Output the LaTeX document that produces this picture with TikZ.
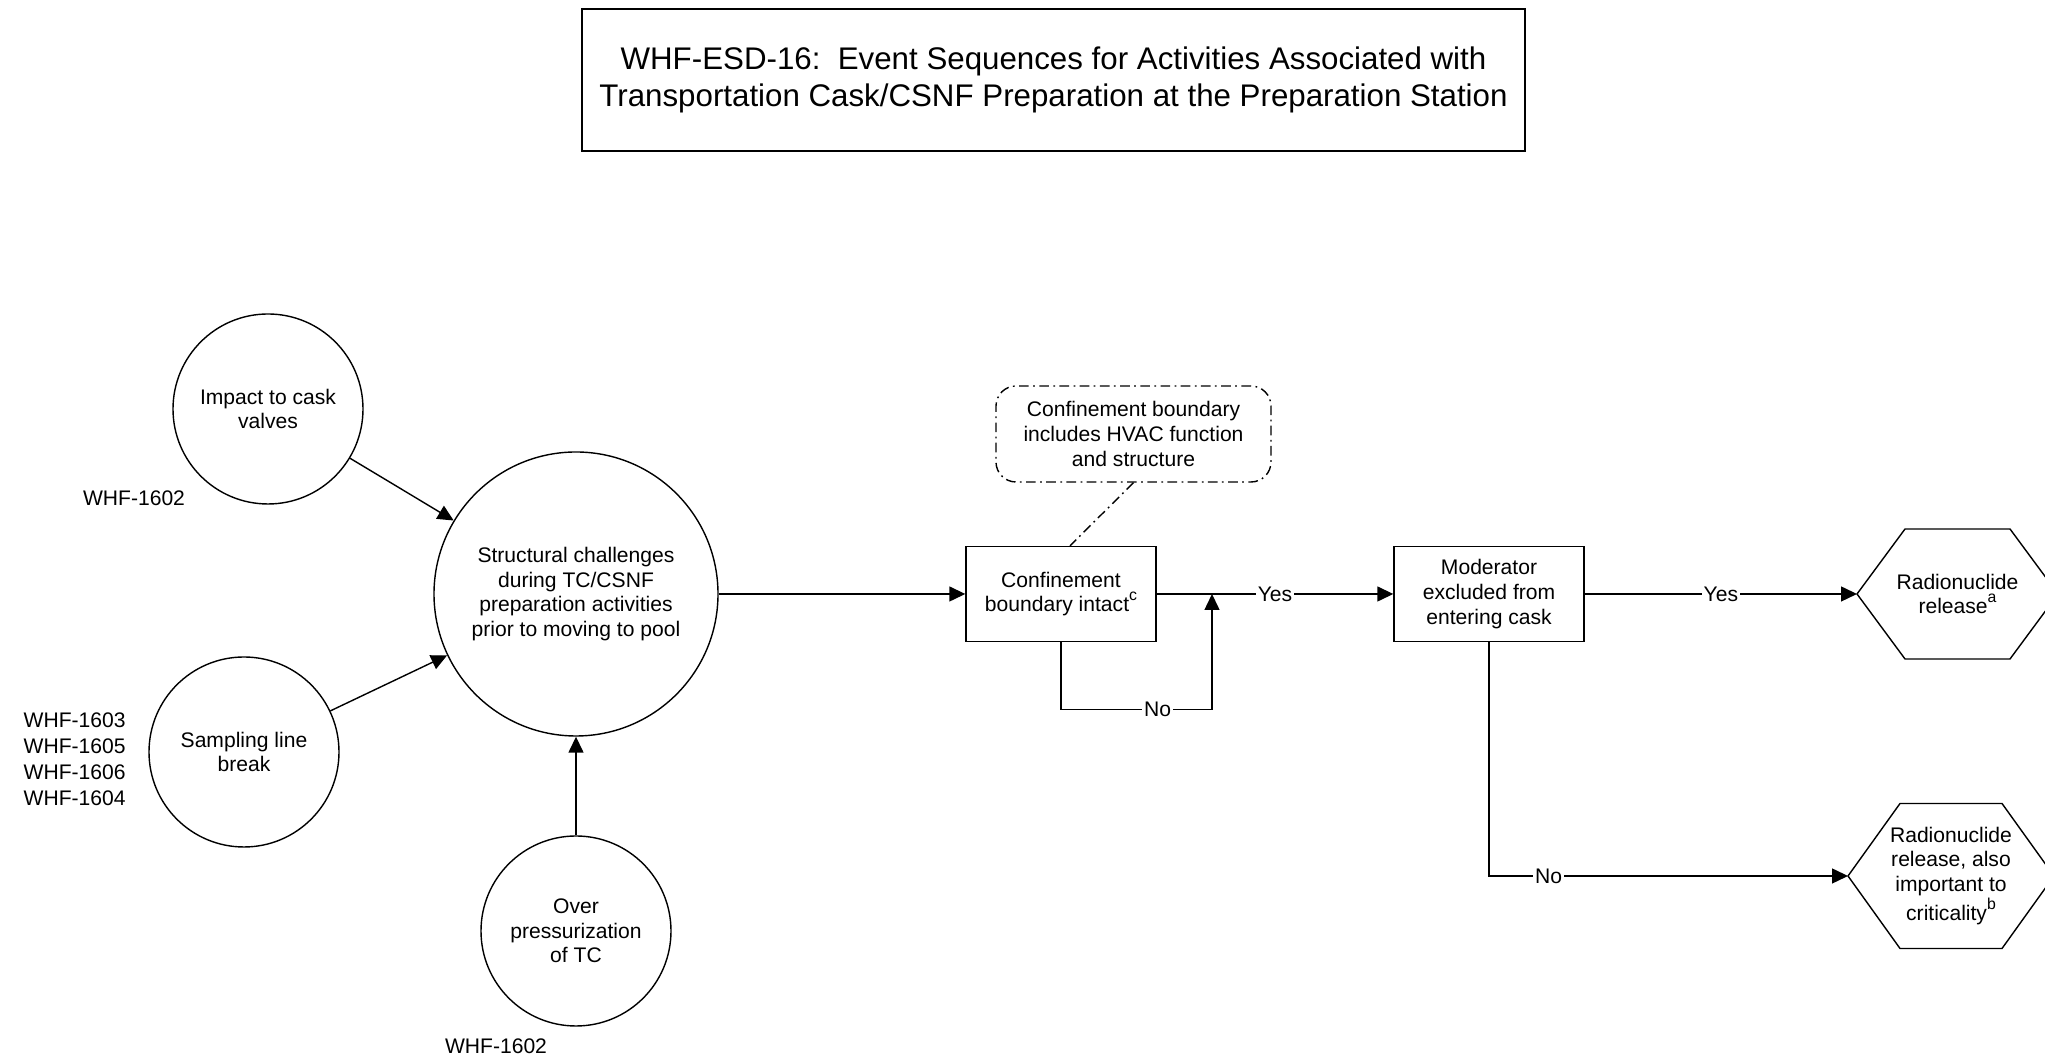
\documentclass[tikz,border=0pt]{standalone}
\usepackage{fontspec}
\setmainfont{Liberation Sans}
\usetikzlibrary{arrows.meta}

\newcommand{\upnote}[1]{\raisebox{0.55em}{\fontsize{9}{9}\selectfont #1}}

\begin{document}
\begin{tikzpicture}[line width=0.8pt,
    eventStyle/.style={circle, draw, minimum size=3.8cm, inner sep=0pt, align=center, font=\fontsize{12}{14}\selectfont},
    pivotStyle/.style={eventStyle, minimum size=5.68cm},
    boxStyle/.style={rectangle, draw, minimum width=3.8cm, minimum height=1.9cm, align=center, font=\fontsize{12}{14}\selectfont},
    noteStyle/.style={rectangle, draw, rounded corners=0.4cm, dash pattern=on 5.5pt off 2.5pt on 1pt off 2.5pt, minimum width=5.5cm, minimum height=1.92cm, align=center, font=\fontsize{12}{14}\selectfont},
    endStyle/.style={rectangle, inner sep=0pt, align=center, font=\fontsize{12}{14}\selectfont},
    refStyle/.style={inner sep=0pt, align=left, font=\fontsize{12}{14.8}\selectfont},
    edgeLabel/.style={fill=white, inner sep=1pt, font=\fontsize{12}{14}\selectfont},
    arr/.style={-{Triangle[length=0.32cm, width=0.3cm]}}]
    \useasboundingbox (0,0) rectangle (40.9,21.14);
    \clip (0,0) rectangle (40.9,21.14);

    \node[rectangle, draw, minimum width=18.86cm, minimum height=2.84cm, align=center, font=\fontsize{17.8}{21}\selectfont] (title) at (21.07, 19.54)
        {WHF-ESD-16:\ \ Event Sequences for Activities Associated with\\Transportation Cask/CSNF Preparation at the Preparation Station};

    % initiating events
    \node[eventStyle] (ie_impact)   at ( 5.36, 12.96) {Impact to cask\\valves};
    \node[eventStyle] (ie_sampling) at ( 4.88,  6.10) {Sampling line\\break};
    \node[eventStyle] (ie_over)     at (11.52,  2.52) {Over\\pressurization\\of TC};
    \node[pivotStyle] (pivot)       at (11.52,  9.26) {Structural challenges\\during TC/CSNF\\preparation activities\\prior to moving to pool};

    \node[refStyle] (ref_impact) at (2.68, 11.18) {WHF-1602};
    \node[refStyle, anchor=west] (ref_sampling) at (0.46, 5.96) {WHF-1603\\WHF-1605\\WHF-1606\\WHF-1604};
    \node[refStyle] (ref_over) at (9.92, 0.22) {WHF-1602};

    % pivotal events
    \node[boxStyle]  (conf_box) at (21.22,  9.26) {Confinement\\boundary intact\upnote{c}};
    \node[noteStyle] (note)     at (22.67, 12.46) {Confinement boundary\\includes HVAC function\\and structure};
    \node[boxStyle]  (mod_box)  at (29.78,  9.26) {Moderator\\excluded from\\entering cask};

    % end states
    \node[endStyle] (end_1) at (39.15, 9.26) {Radionuclide\\release\upnote{a}};
    \node[endStyle] (end_2) at (39.02, 3.62) {Radionuclide\\release, also\\important to\\criticality\upnote{b}};
    \draw (end_1.center) ++(-2.01,0) -- ++(0.96,1.3) -- ++(2.1,0) -- ++(0.96,-1.3) -- ++(-0.96,-1.3) -- ++(-2.1,0) -- cycle;
    \draw (end_2.center) ++(-2.06,0) -- ++(1.04,1.45) -- ++(2.04,0) -- ++(1.04,-1.45) -- ++(-1.04,-1.45) -- ++(-2.04,0) -- cycle;
    \coordinate (end_1_tip) at ([xshift=-2.01cm]end_1.center);
    \coordinate (end_2_tip) at ([xshift=-2.06cm]end_2.center);
    \coordinate (no_join) at (24.24, 9.26);

    \draw[arr] (ie_impact) -- (pivot);
    \draw[arr] (ie_sampling) -- (pivot);
    \draw[arr] (ie_over) -- (pivot);
    \draw[arr] (pivot) -- (conf_box);

    \draw[dash pattern=on 5.5pt off 2.5pt on 1pt off 2.5pt] (note.south) -- ([xshift=0.18cm]conf_box.north);

    \draw[arr] (conf_box) -- node[edgeLabel]{Yes} (mod_box);
    \draw[arr] (conf_box.south) -- ++(0,-1.35) -| node[edgeLabel, pos=0.32]{No} (no_join);
    \draw[arr] (mod_box) -- node[edgeLabel]{Yes} (end_1_tip);
    \draw[arr] (mod_box.south) |- node[edgeLabel, pos=0.583]{No} (end_2_tip);
\end{tikzpicture}
\end{document}
